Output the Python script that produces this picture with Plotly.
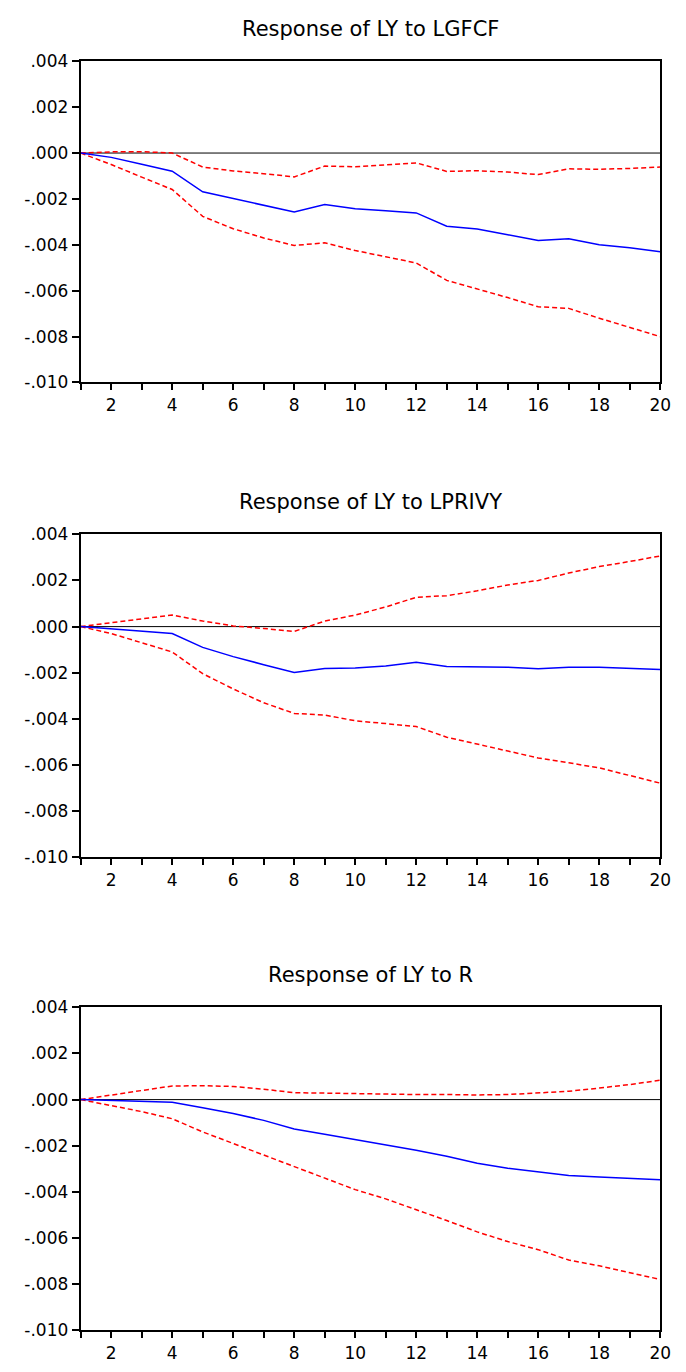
import plotly.graph_objects as go

periods = list(range(1, 21))

titles = ["Response of LY to LGFCF", "Response of LY to LPRIVY", "Response of LY to R"]

lgfcf_resp = [0.0, -0.00019, -0.00049, -0.00079, -0.00169, -0.00198, -0.00228, -0.00257, -0.00224, -0.00243,
              -0.00252, -0.00261, -0.00319, -0.00331, -0.00356, -0.00381, -0.00374, -0.00400, -0.00413, -0.00430]
lgfcf_upper = [0.0, 0.00005, 0.00006, 0.0, -0.00061, -0.00078, -0.00090, -0.00104, -0.00057, -0.00060,
               -0.00052, -0.00043, -0.00080, -0.00077, -0.00083, -0.00094, -0.00069, -0.00071, -0.00067, -0.00061]
lgfcf_lower = [0.0, -0.00050, -0.00105, -0.00159, -0.00276, -0.00330, -0.00370, -0.00403, -0.00391, -0.00425,
               -0.00452, -0.00479, -0.00555, -0.00591, -0.00630, -0.00670, -0.00677, -0.00720, -0.00760, -0.00800]

lprivy_resp = [0.0, -0.00010, -0.00020, -0.00030, -0.00090, -0.00130, -0.00165, -0.00199, -0.00181, -0.00179,
               -0.00171, -0.00154, -0.00173, -0.00175, -0.00176, -0.00183, -0.00176, -0.00176, -0.00180, -0.00186]
lprivy_upper = [0.0, 0.00017, 0.00035, 0.00050, 0.00024, 0.00003, -0.00008, -0.00021, 0.00024, 0.00050,
                0.00085, 0.00127, 0.00134, 0.00155, 0.00180, 0.00200, 0.00232, 0.00260, 0.00282, 0.00306]
lprivy_lower = [0.0, -0.00030, -0.00070, -0.00110, -0.00204, -0.00270, -0.00330, -0.00376, -0.00383, -0.00408,
                -0.00420, -0.00433, -0.00479, -0.00508, -0.00540, -0.00569, -0.00590, -0.00612, -0.00645, -0.00678]

r_resp = [0.0, -0.00003, -0.00007, -0.00011, -0.00035, -0.00060, -0.00090, -0.00127, -0.00150, -0.00172,
          -0.00195, -0.00219, -0.00245, -0.00276, -0.00297, -0.00313, -0.00329, -0.00335, -0.00340, -0.00347]
r_upper = [0.0, 0.00020, 0.00040, 0.00059, 0.00060, 0.00057, 0.00045, 0.00030, 0.00028, 0.00025,
           0.00023, 0.00022, 0.00022, 0.00020, 0.00022, 0.00028, 0.00036, 0.00050, 0.00065, 0.00084]
r_lower = [0.0, -0.00025, -0.00052, -0.00083, -0.00140, -0.00190, -0.00240, -0.00290, -0.00340, -0.00390,
           -0.00430, -0.00476, -0.00524, -0.00573, -0.00615, -0.00650, -0.00695, -0.00720, -0.00750, -0.00779]

panels = [
    (lgfcf_resp, lgfcf_upper, lgfcf_lower),
    (lprivy_resp, lprivy_upper, lprivy_lower),
    (r_resp, r_upper, r_lower),
]

y_tickvals = [0.004, 0.002, 0.0, -0.002, -0.004, -0.006, -0.008, -0.010]
y_ticktext = [".004", ".002", ".000", "-.002", "-.004", "-.006", "-.008", "-.010"]
x_tickvals = [2, 4, 6, 8, 10, 12, 14, 16, 18, 20]
x_ticktext = [str(v) for v in x_tickvals]

W, H = 686, 1372
tops = [52, 532, 1012]
bottoms = [378, 860, 1340]
x0_px, x1_px = 82, 671

FAM = "DejaVu Sans, Arial, sans-serif"
fig = go.Figure()

layout = dict(
    width=W, height=H, margin=dict(l=0, r=0, t=0, b=0),
    paper_bgcolor="white", plot_bgcolor="white", showlegend=False,
    font=dict(family=FAM, size=17, color="black"),
)
annotations = []
for i, (resp, up, lo) in enumerate(panels):
    sfx = "" if i == 0 else str(i + 1)
    xa, ya = "x" + sfx, "y" + sfx
    fig.add_trace(go.Scatter(x=periods, y=[0] * len(periods), mode="lines",
                             line=dict(color="black", width=1), xaxis=xa, yaxis=ya, hoverinfo="skip"))
    fig.add_trace(go.Scatter(x=periods, y=up, mode="lines",
                             line=dict(color="red", width=1.5, dash="5px,3px"), xaxis=xa, yaxis=ya))
    fig.add_trace(go.Scatter(x=periods, y=lo, mode="lines",
                             line=dict(color="red", width=1.5, dash="5px,3px"), xaxis=xa, yaxis=ya))
    fig.add_trace(go.Scatter(x=periods, y=resp, mode="lines",
                             line=dict(color="blue", width=1.5), xaxis=xa, yaxis=ya))
    ydom = [1 - bottoms[i] / H, 1 - tops[i] / H]
    layout["xaxis" + sfx] = dict(
        domain=[x0_px / W, x1_px / W], range=[1, 20], anchor=ya,
        tickvals=x_tickvals, ticktext=x_ticktext, ticks="outside", ticklen=6, tickwidth=1.5,
        tickcolor="black", showgrid=False, zeroline=False,
        showline=True, linecolor="black", linewidth=2, mirror=True,
        minor=dict(ticks="outside", tick0=1, dtick=1, ticklen=6, tickwidth=1.5, tickcolor="black", showgrid=False),
        tickfont=dict(family=FAM, size=17),
    )
    layout["yaxis" + sfx] = dict(
        domain=ydom, range=[-0.010, 0.004], anchor=xa,
        tickvals=y_tickvals, ticktext=y_ticktext, ticks="outside", ticklen=7, tickwidth=1.5,
        tickcolor="black", showgrid=False, zeroline=False,
        showline=True, linecolor="black", linewidth=2, mirror=True,
        tickfont=dict(family=FAM, size=17),
    )
    annotations.append(dict(
        text=titles[i], x=(x0_px + x1_px) / 2 / W, y=1 - (tops[i] - 33) / H,
        xref="paper", yref="paper", showarrow=False, xanchor="center", yanchor="middle",
        font=dict(family=FAM, size=21, color="black"),
    ))
layout["annotations"] = annotations
fig.update_layout(**layout)
fig.write_html("out.html")
